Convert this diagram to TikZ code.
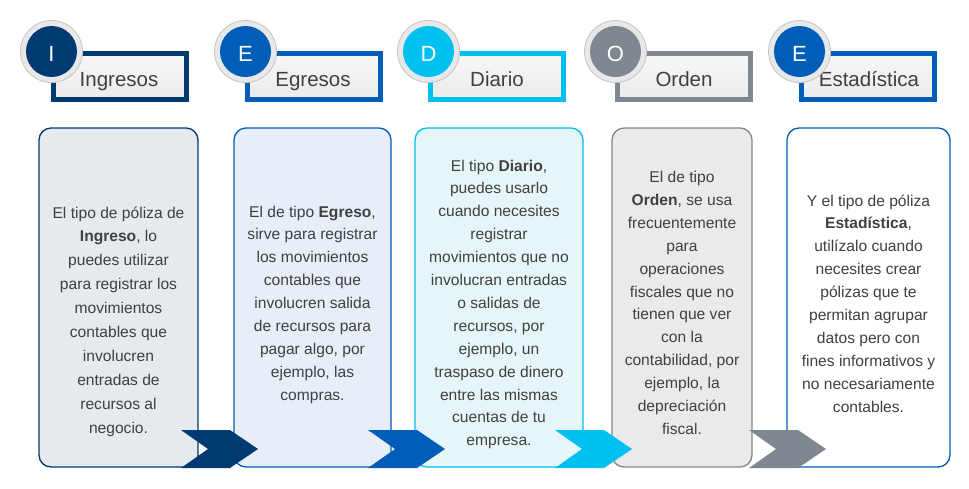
\documentclass[tikz,border=0pt]{standalone}
\usepackage{fontspec}
\setmainfont{Liberation Sans}
\definecolor{cnavy}{HTML}{003A70}
\definecolor{cblue}{HTML}{005EB8}
\definecolor{ccyan}{HTML}{00C0F0}
\definecolor{cgrey}{HTML}{7F8890}
\definecolor{txtc}{HTML}{404040}
\definecolor{fillA}{HTML}{E6E9ED}
\definecolor{fillB}{HTML}{E7EEF8}
\definecolor{fillC}{HTML}{E6F6F8}
\definecolor{fillD}{HTML}{EAEAEA}
\definecolor{ringc}{HTML}{E8E8E8}
\definecolor{ringb}{HTML}{C4C4C4}
\newcommand\bodytab[1]{\begin{tabular}[t]{@{}c@{}}#1\end{tabular}}
\begin{document}
\begin{tikzpicture}[x=1pt,y=-1pt,
  box/.style={draw, line width=1.3pt, rounded corners=12pt, minimum height=339pt, inner sep=0pt},
  hbox/.style={draw, line width=5pt, minimum width=133pt, minimum height=46pt, inner sep=0pt, top color=white!97!black, bottom color=white!92!black},
  ring/.style={circle, fill=ringc, draw=ringb, line width=0.8pt, minimum size=62pt, inner sep=0pt},
  disc/.style={circle, minimum size=51pt, inner sep=0pt},
  letter/.style={anchor=base, text=white, font=\fontsize{22}{26}\selectfont},
  hdr/.style={anchor=base, text=txtc, font=\fontsize{20.5}{24}\selectfont},
  body/.style={anchor=base, text=txtc, inner sep=0pt, font=\fontsize{15.6}{22.9}\selectfont},
  chev/.style={draw=none}
]
\useasboundingbox[fill=white] (0,0) rectangle (969,488);

% body boxes
\node[box, draw=cnavy, fill=fillA, minimum width=159pt] (b1) at (118.5,297.5) {};
\node[box, draw=cblue, fill=fillB, minimum width=157pt] (b2) at (312.5,297.5) {};
\node[box, draw=ccyan, fill=fillC, minimum width=168pt] (b3) at (499,297.5) {};
\node[box, draw=cgrey, fill=fillD, minimum width=140pt] (b4) at (682,297.5) {};
\node[box, draw=cblue, fill=white, minimum width=163pt] (b5) at (868.5,297.5) {};

% body texts
\node[body, font=\fontsize{15.6}{23.9}\selectfont] (t1) at (118.5,218) {\bodytab{El tipo de póliza de\\ \textbf{Ingreso}, lo\\ puedes utilizar\\ para registrar los\\ movimientos\\ contables que\\ involucren\\ entradas de\\ recursos al\\ negocio.}};
\node[body] (t2) at (312.5,217) {\bodytab{El de tipo \textbf{Egreso},\\ sirve para registrar\\ los movimientos\\ contables que\\ involucren salida\\ de recursos para\\ pagar algo, por\\ ejemplo, las\\ compras.}};
\node[body] (t3) at (499,171) {\bodytab{El tipo \textbf{Diario},\\ puedes usarlo\\ cuando necesites\\ registrar\\ movimientos que no\\ involucran entradas\\ o salidas de\\ recursos, por\\ ejemplo, un\\ traspaso de dinero\\ entre las mismas\\ cuentas de tu\\ empresa.}};
\node[body] (t4) at (682,182.5) {\bodytab{El de tipo\\ \textbf{Orden}, se usa\\ frecuentemente\\ para\\ operaciones\\ fiscales que no\\ tienen que ver\\ con la\\ contabilidad, por\\ ejemplo, la\\ depreciación\\ fiscal.}};
\node[body] (t5) at (868.5,206) {\bodytab{Y el tipo de póliza\\ \textbf{Estadística},\\ utilízalo cuando\\ necesites crear\\ pólizas que te\\ permitan agrupar\\ datos pero con\\ fines informativos y\\ no necesariamente\\ contables.}};

% chevrons
\fill[cnavy] (181,430) -- (230,430) -- (258,449) -- (230,468) -- (181,468) -- (208,449) -- cycle;
\fill[cblue] (368,430) -- (417,430) -- (445,449) -- (417,468) -- (368,468) -- (395,449) -- cycle;
\fill[ccyan] (555,430) -- (604,430) -- (632,449) -- (604,468) -- (555,468) -- (582,449) -- cycle;
\fill[cgrey] (749,430) -- (798,430) -- (826,449) -- (798,468) -- (749,468) -- (776,449) -- cycle;

% headers
\node[hbox, draw=cnavy] (h1) at (120,76.5) {};
\node[hbox, draw=cblue] (h2) at (314,76.5) {};
\node[hbox, draw=ccyan] (h3) at (497,76.5) {};
\node[hbox, draw=cgrey] (h4) at (684,76.5) {};
\node[hbox, draw=cblue] (h5) at (868,76.5) {};

\node[hdr] (l1) at (119,86) {Ingresos};
\node[hdr] (l2) at (313,86) {Egresos};
\node[hdr] (l3) at (497,86) {Diario};
\node[hdr] (l4) at (684,86) {Orden};
\node[hdr] (l5) at (869,86) {Estadística};

% circles
\node[ring] (r1) at (51.5,51.5) {};
\node[disc, fill=cnavy] (d1) at (r1) {};
\node[letter] (k1) at (51.5,61) {I};
\node[ring] (r2) at (245.5,51.5) {};
\node[disc, fill=cblue] (d2) at (r2) {};
\node[letter] (k2) at (245.5,61) {E};
\node[ring] (r3) at (428.5,51.5) {};
\node[disc, fill=ccyan] (d3) at (r3) {};
\node[letter] (k3) at (428.5,61) {D};
\node[ring] (r4) at (615.5,51.5) {};
\node[disc, fill=cgrey] (d4) at (r4) {};
\node[letter] (k4) at (615.5,61) {O};
\node[ring] (r5) at (799.5,51.5) {};
\node[disc, fill=cblue] (d5) at (r5) {};
\node[letter] (k5) at (799.5,61) {E};
\end{tikzpicture}
\end{document}
